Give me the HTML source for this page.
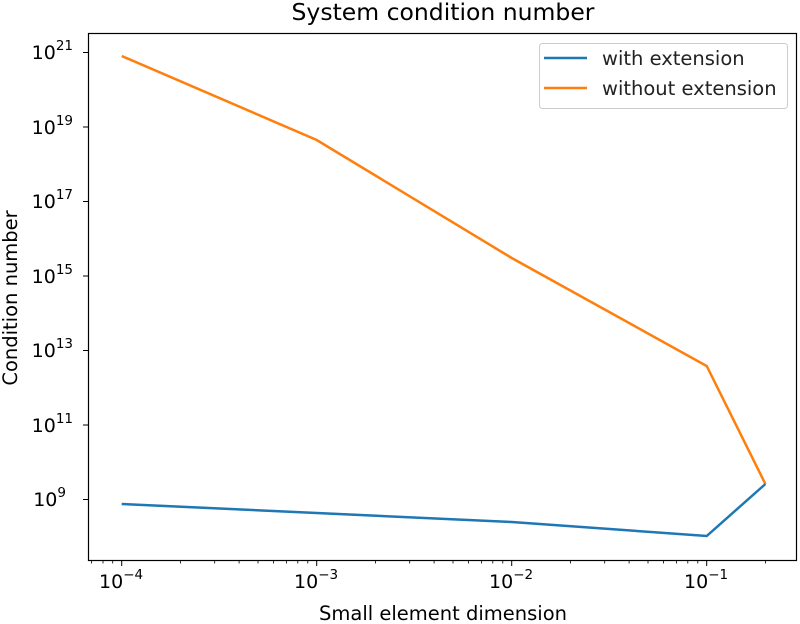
<!DOCTYPE html>
<html><head><style>body{margin:0;background:#fff}svg{display:block}</style></head><body>
<svg width="800" height="624" xmlns="http://www.w3.org/2000/svg" font-family="DejaVu Sans, Liberation Sans, sans-serif">
<rect width="800" height="624" fill="#fff"/>
<text x="443" y="20" font-size="23.5" text-anchor="middle" fill="#000">System condition number</text>
<g stroke="#000" stroke-width="1">
<line x1="88" y1="499.5" x2="83" y2="499.5"/><line x1="88" y1="425" x2="83" y2="425"/><line x1="88" y1="350.5" x2="83" y2="350.5"/><line x1="88" y1="276" x2="83" y2="276"/><line x1="88" y1="201.5" x2="83" y2="201.5"/><line x1="88" y1="127" x2="83" y2="127"/><line x1="88" y1="52.5" x2="83" y2="52.5"/>
<line x1="121.7" y1="560" x2="121.7" y2="566"/><line x1="316.7" y1="560" x2="316.7" y2="566"/><line x1="511.7" y1="560" x2="511.7" y2="566"/><line x1="706.7" y1="560" x2="706.7" y2="566"/>
</g>
<g stroke="#000" stroke-width="0.8">
<line x1="91.5" y1="560" x2="91.5" y2="563.5"/><line x1="103" y1="560" x2="103" y2="563.5"/><line x1="112.7" y1="560" x2="112.7" y2="563.5"/>
<line x1="180.4" y1="560" x2="180.4" y2="563.5"/><line x1="214.7" y1="560" x2="214.7" y2="563.5"/><line x1="239.1" y1="560" x2="239.1" y2="563.5"/><line x1="258" y1="560" x2="258" y2="563.5"/><line x1="273.4" y1="560" x2="273.4" y2="563.5"/><line x1="286.5" y1="560" x2="286.5" y2="563.5"/><line x1="297.8" y1="560" x2="297.8" y2="563.5"/><line x1="307.8" y1="560" x2="307.8" y2="563.5"/>
<line x1="375.4" y1="560" x2="375.4" y2="563.5"/><line x1="409.7" y1="560" x2="409.7" y2="563.5"/><line x1="434.1" y1="560" x2="434.1" y2="563.5"/><line x1="453" y1="560" x2="453" y2="563.5"/><line x1="468.4" y1="560" x2="468.4" y2="563.5"/><line x1="481.5" y1="560" x2="481.5" y2="563.5"/><line x1="492.8" y1="560" x2="492.8" y2="563.5"/><line x1="502.8" y1="560" x2="502.8" y2="563.5"/>
<line x1="570.4" y1="560" x2="570.4" y2="563.5"/><line x1="604.7" y1="560" x2="604.7" y2="563.5"/><line x1="629.1" y1="560" x2="629.1" y2="563.5"/><line x1="648" y1="560" x2="648" y2="563.5"/><line x1="663.4" y1="560" x2="663.4" y2="563.5"/><line x1="676.5" y1="560" x2="676.5" y2="563.5"/><line x1="687.8" y1="560" x2="687.8" y2="563.5"/><line x1="697.8" y1="560" x2="697.8" y2="563.5"/>
<line x1="765.4" y1="560" x2="765.4" y2="563.5"/>
</g>
<g font-size="19" fill="#000" text-anchor="end">
<text x="66" y="506">10<tspan font-size="13.5" dy="-9">9</tspan></text>
<text x="73" y="432">10<tspan font-size="13.5" dy="-9">11</tspan></text>
<text x="73" y="357">10<tspan font-size="13.5" dy="-9">13</tspan></text>
<text x="73" y="283">10<tspan font-size="13.5" dy="-9">15</tspan></text>
<text x="73" y="208">10<tspan font-size="13.5" dy="-9">17</tspan></text>
<text x="73" y="134">10<tspan font-size="13.5" dy="-9">19</tspan></text>
<text x="73" y="59">10<tspan font-size="13.5" dy="-9">21</tspan></text>
</g>
<g font-size="19" fill="#000">
<text x="99" y="588">10<tspan font-size="13.5" dy="-9">−4</tspan></text>
<text x="294" y="588">10<tspan font-size="13.5" dy="-9">−3</tspan></text>
<text x="489" y="588">10<tspan font-size="13.5" dy="-9">−2</tspan></text>
<text x="684" y="588">10<tspan font-size="13.5" dy="-9">−1</tspan></text>
</g>
<text x="443" y="620" font-size="19.5" text-anchor="middle">Small element dimension</text>
<text transform="translate(17,298) rotate(-90)" font-size="19.5" text-anchor="middle">Condition number</text>
<polyline fill="none" stroke="#ff7f0e" stroke-width="2.5" points="121.7,56 316.7,140 511.7,258 706.7,366 765.4,484"/>
<polyline fill="none" stroke="#1f77b4" stroke-width="2.5" points="121.7,504 316.7,513 511.7,522 706.7,536 765.4,484"/>
<rect x="88.5" y="33.5" width="708" height="527" fill="none" stroke="#000" stroke-width="1.2"/>
<rect x="539.5" y="43.5" width="248" height="65" rx="3" fill="#fff" fill-opacity="0.8" stroke="#ccc"/>
<line x1="544" y1="58" x2="587" y2="58" stroke="#1f77b4" stroke-width="2.5"/>
<line x1="544" y1="88" x2="587" y2="88" stroke="#ff7f0e" stroke-width="2.5"/>
<text x="602" y="65" font-size="19.5" fill="#222">with extension</text>
<text x="602" y="95" font-size="19.5" fill="#222">without extension</text>
</svg>
</body></html>
